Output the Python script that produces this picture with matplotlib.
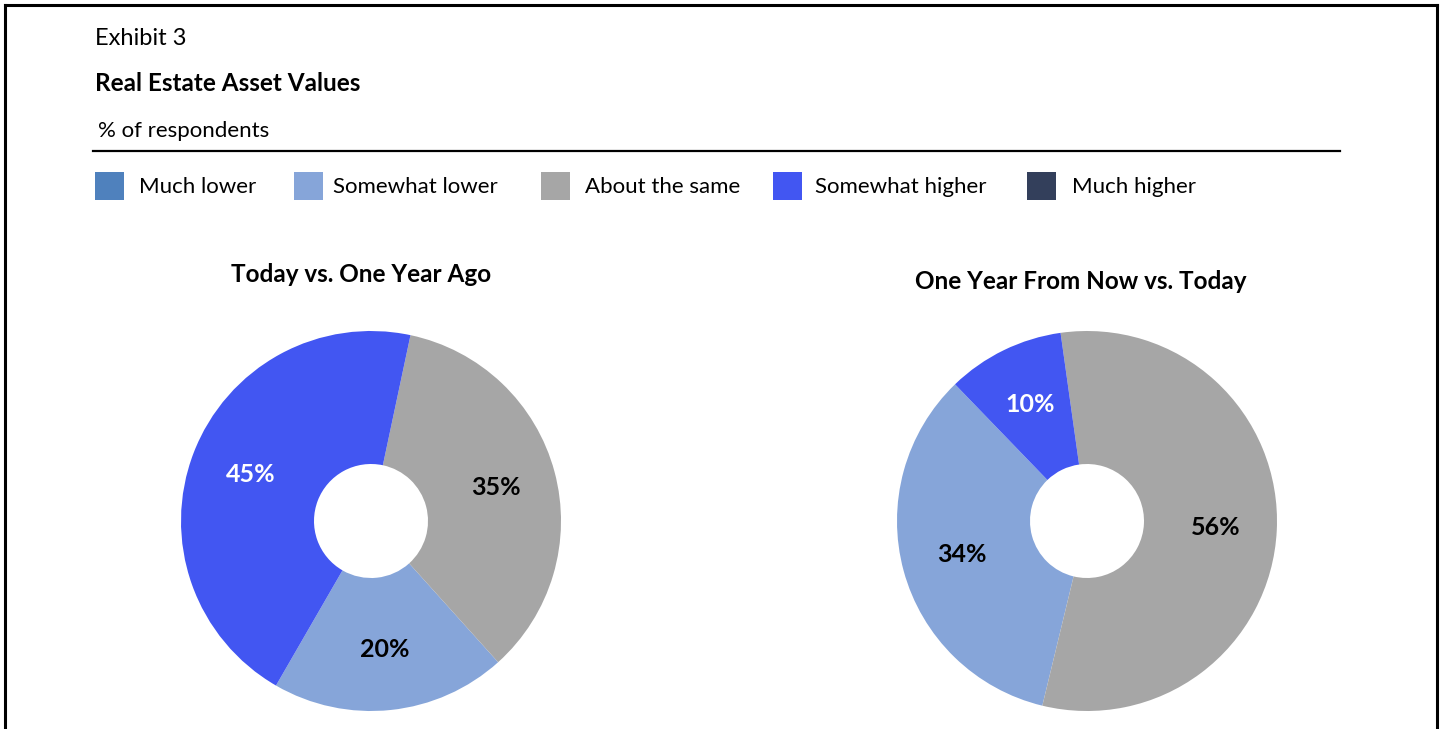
import matplotlib
matplotlib.use('Agg')
import matplotlib.pyplot as plt
from matplotlib.patches import Rectangle

plt.rcParams['font.family'] = ['Lato', 'DejaVu Sans']

### data
categories = ['Much lower', 'Somewhat lower', 'About the same', 'Somewhat higher', 'Much higher']
colors = ['#4F81BD', '#86A5D9', '#A6A6A6', '#4256F2', '#333F5B']
today_vs_year_ago = [0, 20, 35, 45, 0]
year_from_now_vs_today = [0, 34, 56, 10, 0]
label_colors = ['black', 'black', 'black', 'white', 'white']

W, H = 1442, 729
fig = plt.figure(figsize=(W / 100, H / 100), dpi=100)

# overlay axes in pixel coords for the header, rule, legend and frame
bg = fig.add_axes([0, 0, 1, 1])
bg.set_xlim(0, W)
bg.set_ylim(H, 0)
bg.axis('off')

# frame (no bottom edge, it is cut off)
bg.plot([5, 5], [H + 5, 5], color='black', lw=2.2)
bg.plot([5, 1437], [5, 5], color='black', lw=2.2)
bg.plot([1437, 1437], [5, H + 5], color='black', lw=2.2)

bg.text(95, 38, 'Exhibit 3', fontsize=17, va='center', ha='left')
bg.text(95, 83, 'Real Estate Asset Values', fontsize=17.5, fontweight='bold', va='center', ha='left')
bg.text(98, 131, '% of respondents', fontsize=16, va='center', ha='left')
bg.plot([93, 1340], [151, 151], color='black', lw=1.6)

# legend row
leg_x = [95, 294, 541, 773, 1027]
leg_tx = [139, 333, 585, 815, 1072]
for x0, tx, lab, c in zip(leg_x, leg_tx, categories, colors):
    bg.add_patch(Rectangle((x0, 172), 29, 28, color=c, lw=0))
    bg.text(tx, 187, lab, fontsize=16, va='center', ha='left')


def donut(cx, cy, r, vals, start, title, tx, ty):
    ax = fig.add_axes([(cx - r) / W, 1 - (cy + r) / H, 2 * r / W, 2 * r / H])
    wedges, texts, pcts = ax.pie(
        vals, colors=colors, startangle=start, counterclock=True,
        wedgeprops=dict(width=0.7, linewidth=0),
        autopct=lambda p: '%d%%' % round(p) if p > 0 else '',
        pctdistance=0.68,
        textprops=dict(fontsize=18, fontweight='bold'))
    for t, c in zip(pcts, label_colors):
        t.set_color(c)
    ax.set_xlim(-1, 1)
    ax.set_ylim(-1, 1)
    ax.set_aspect('equal')
    bg.text(tx, ty, title, fontsize=17.5, fontweight='bold', ha='center', va='center')


donut(371, 521, 190, today_vs_year_ago, 240, 'Today vs. One Year Ago', 361, 274)
donut(1087, 521, 190, year_from_now_vs_today, 134, 'One Year From Now vs. Today', 1081, 281)

fig.savefig('out.png', dpi=100)
